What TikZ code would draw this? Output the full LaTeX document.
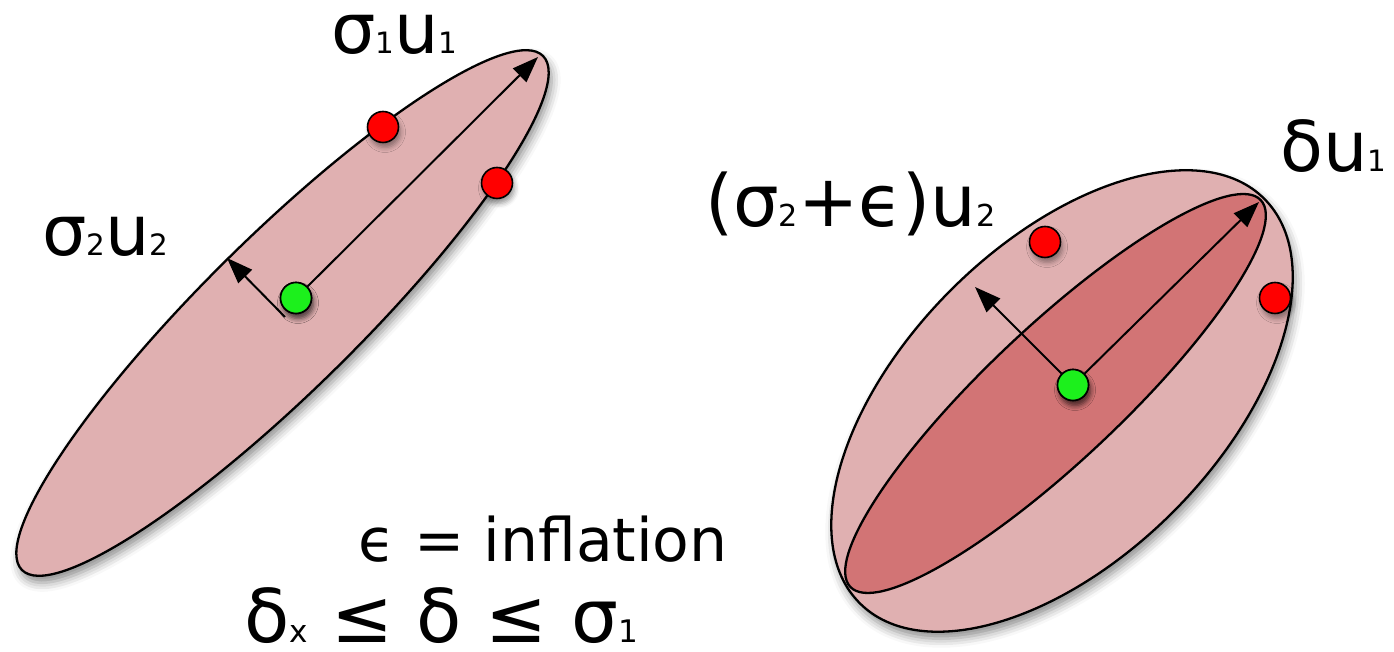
\documentclass[tikz,border=0pt]{standalone}
\usepackage{fontspec}
\setmainfont{DejaVu Sans}
\usetikzlibrary{arrows.meta,shadows.blur}
\definecolor{blobpink}{HTML}{E0B0B1}
\definecolor{blobcore}{HTML}{D27475}
\definecolor{dotred}{HTML}{FF0000}
\definecolor{dotgreen}{HTML}{1CF01C}
\newcommand{\sbs}[1]{\scalebox{0.42}{#1}}

\tikzset{
  blob/.style={draw=black,line width=2.3pt,fill=blobpink},
  blobshadow/.style={blur shadow={shadow xshift=3pt,shadow yshift=-7pt,shadow blur radius=9pt,shadow opacity=45}},
  dot/.style={circle,draw=black,line width=1.6pt,minimum size=31pt,inner sep=0pt,
    blur shadow={shadow xshift=2pt,shadow yshift=-5pt,shadow blur radius=5pt,shadow opacity=40}},
  reddot/.style={dot,fill=dotred},
  greendot/.style={dot,fill=dotgreen},
  vec/.style={draw=black,line width=2pt,-{Triangle[length=26pt,width=19pt,fill=black]}},
  lbl/.style={anchor=base west,inner sep=0pt,font=\fontsize{70}{84}\selectfont},
}

\begin{document}
\begin{tikzpicture}[x=1pt,y=1pt]
\useasboundingbox (0,0) rectangle (1394,652);
% left ellipse
\draw[blob,blobshadow] (282.5,339) ellipse[x radius=366,y radius=77,rotate=44.6];
\coordinate (o1) at (285,335);
\coordinate (t1) at (538,595);
\coordinate (t2) at (227,394);
\node[greendot] (g1) at (296,354) {};
\draw[vec] (g1) -- (t1);
\draw[vec] (o1) -- (t2);
\node[greendot] at (g1) {};
\node[reddot] (r1) at (383,525) {};
\node[reddot] (r2) at (497,469) {};
% right ellipses
\draw[blob,blobshadow] (1062,251) ellipse[x radius=286,y radius=157,rotate=45];
\draw[blob,fill=blobcore] (1055.5,258.5) ellipse[x radius=282,y radius=67,rotate=43.3];
\coordinate (t3) at (1259,450);
\coordinate (t4) at (975,365);
\node[greendot] (g2) at (1073,267) {};
\draw[vec] (g2) -- (t3);
\draw[vec] (g2) -- (t4);
\node[greendot] at (g2) {};
\node[reddot] (r3) at (1045,410) {};
\node[reddot] (r4) at (1275,354) {};
% labels
\node[lbl] (s1u1) at (331,598) {σ\sbs{1}u\sbs{1}};
\node[lbl] (s2u2) at (42,396) {σ\sbs{2}u\sbs{2}};
\node[lbl,font=\fontsize{72}{86}\selectfont] (s2eu2) at (705,425) {(σ\sbs{2}+ϵ)u\sbs{2}};
\node[lbl] (du1) at (1280,480) {δu\sbs{1}};
\node[lbl,font=\fontsize{60}{72}\selectfont] (infl) at (358,90) {ϵ = inflation};
\node[lbl,font=\fontsize{74}{88}\selectfont] (bound) at (244,9) {δ\sbs{x} ≤ δ ≤ σ\sbs{1}};
\end{tikzpicture}
\end{document}
